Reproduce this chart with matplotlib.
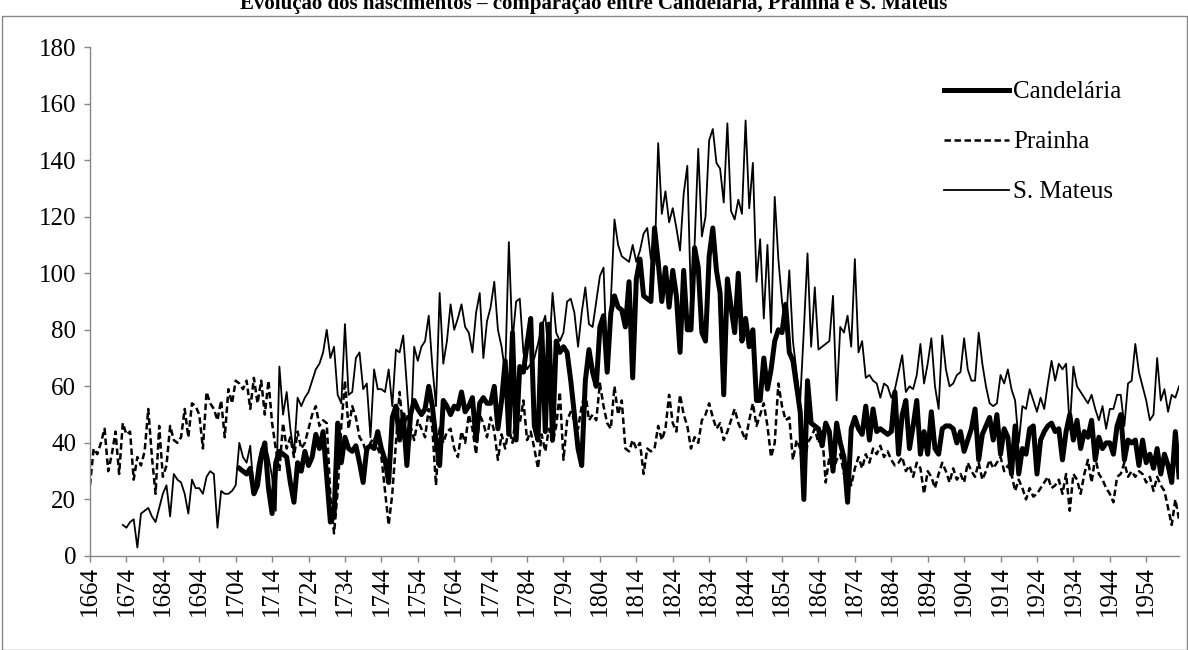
import matplotlib
matplotlib.use('Agg')
import matplotlib.pyplot as plt
from matplotlib.patches import Rectangle

plt.rcParams['font.family'] = ['Liberation Serif', 'DejaVu Serif']

# ------------------------------------------------------------------ data
title = 'Evolução dos nascimentos – comparação entre Candelária, Prainha e S. Mateus'
tick_years = list(range(1664, 1955, 10))

start_prainha = 1664
prainha = [
    25, 38, 36, 40, 45, 30, 36, 44, 29, 47,   # 1664
    43, 44, 27, 35, 32, 37, 52, 35, 22, 46,   # 1674
    28, 32, 46, 41, 40, 42, 52, 42, 54, 53,   # 1684
    50, 38, 58, 54, 52, 48, 55, 42, 59, 54,   # 1694
    62, 61, 59, 62, 52, 63, 54, 62, 50, 62,   # 1704
    47, 38, 30, 47, 38, 42, 35, 44, 38, 40,   # 1714
    45, 50, 53, 46, 48, 47, 21, 8, 23, 46,    # 1724
    62, 45, 53, 49, 42, 40, 36, 40, 42, 38,   # 1734
    35, 23, 11, 22, 40, 58, 44, 50, 46, 41,   # 1744
    48, 45, 42, 52, 45, 25, 46, 40, 44, 45,   # 1754
    38, 35, 44, 40, 50, 45, 36, 50, 47, 42,   # 1764
    49, 44, 34, 43, 38, 45, 40, 50, 47, 55,   # 1774
    41, 44, 38, 31, 43, 37, 45, 40, 46, 58,   # 1784
    34, 48, 51, 48, 45, 53, 58, 48, 50, 48,   # 1794
    61, 53, 47, 45, 60, 50, 55, 38, 37, 41,   # 1804
    38, 40, 29, 38, 37, 38, 46, 41, 45, 57,   # 1814
    47, 44, 57, 50, 46, 38, 42, 40, 48, 50,   # 1824
    54, 49, 45, 47, 41, 44, 48, 52, 47, 44,   # 1834
    41, 48, 54, 46, 50, 54, 46, 35, 40, 61,   # 1844
    53, 48, 49, 34, 41, 38, 28, 40, 42, 45,   # 1854
    40, 44, 26, 35, 30, 34, 36, 29, 33, 25,   # 1864
    31, 35, 31, 36, 33, 38, 36, 39, 35, 37,   # 1874
    34, 32, 33, 35, 30, 32, 28, 33, 31, 22,   # 1884
    30, 28, 24, 29, 33, 30, 26, 31, 27, 29,   # 1894
    26, 33, 30, 28, 33, 27, 30, 34, 31, 33,   # 1904
    35, 30, 32, 29, 23, 27, 24, 20, 24, 21,   # 1914
    22, 24, 26, 28, 24, 25, 27, 22, 29, 16,   # 1924
    29, 27, 22, 29, 34, 26, 35, 29, 27, 24,   # 1934
    22, 19, 28, 29, 33, 28, 30, 28, 30, 29,   # 1944
    26, 28, 23, 28, 25, 23, 17, 11, 20, 13,   # 1954
]

start_mateus = 1673
s_mateus = [
    11,                                       # 1673
    10, 12, 13, 3, 15, 16, 17, 14, 12, 17,    # 1674
    22, 25, 14, 29, 27, 26, 22, 15, 27, 24,   # 1684
    24, 22, 28, 30, 29, 10, 23, 22, 22, 23,   # 1694
    25, 40, 35, 33, 39, 22, 32, 38, 40, 35,   # 1704
    28, 16, 67, 50, 58, 45, 36, 56, 53, 56,   # 1714
    58, 62, 66, 68, 72, 80, 70, 74, 57, 54,   # 1724
    82, 57, 58, 70, 72, 59, 61, 42, 66, 59,   # 1734
    59, 58, 66, 53, 73, 72, 78, 60, 41, 74,   # 1744
    69, 74, 76, 85, 67, 53, 93, 68, 76, 89,   # 1754
    80, 84, 89, 81, 79, 72, 86, 93, 70, 83,   # 1764
    88, 97, 80, 74, 65, 111, 76, 90, 91, 72,  # 1774
    66, 68, 70, 75, 81, 85, 70, 93, 79, 76,   # 1784
    79, 90, 91, 86, 74, 86, 95, 82, 81, 90,   # 1794
    99, 102, 66, 90, 119, 110, 106, 105, 104, 110,   # 1804
    104, 108, 114, 116, 105, 103, 146, 121, 129, 118,  # 1814
    123, 116, 108, 128, 138, 90, 110, 144, 113, 120,   # 1824
    147, 151, 139, 137, 125, 153, 122, 119, 126, 121,  # 1834
    154, 123, 139, 97, 112, 84, 110, 79, 127, 105,     # 1844
    90, 80, 101, 76, 65, 55, 80, 107, 74, 95,  # 1854
    73, 74, 75, 76, 92, 55, 81, 79, 85, 74,   # 1864
    105, 72, 76, 63, 64, 62, 61, 56, 61, 60,  # 1874
    56, 59, 65, 71, 58, 60, 59, 64, 75, 61,   # 1884
    68, 77, 60, 52, 78, 66, 60, 61, 64, 65,   # 1894
    77, 66, 62, 62, 79, 68, 60, 54, 53, 54,   # 1904
    64, 61, 66, 59, 55, 40, 53, 52, 59, 55,   # 1914
    51, 56, 52, 61, 69, 62, 68, 66, 68, 45,   # 1924
    67, 60, 58, 56, 54, 57, 52, 48, 53, 45,   # 1934
    52, 52, 57, 57, 46, 61, 62, 75, 65, 60,   # 1944
    55, 48, 50, 70, 55, 59, 51, 57, 56, 60,   # 1954
]

start_candelaria = 1705
candelaria = [
    31, 30, 29, 31, 22, 25, 35, 40, 24,       # 1705
    15, 33, 37, 36, 35, 26, 19, 33, 30, 37,   # 1714
    32, 35, 43, 38, 44, 28, 12, 14, 47, 33,   # 1724
    42, 38, 37, 39, 33, 26, 38, 39, 38, 44,   # 1734
    38, 34, 26, 49, 53, 41, 50, 32, 50, 55,   # 1744
    52, 50, 52, 60, 53, 41, 32, 55, 53, 50,   # 1754
    53, 52, 58, 51, 53, 56, 41, 54, 56, 54,   # 1764
    54, 60, 45, 55, 69, 43, 79, 41, 67, 65,   # 1774
    75, 84, 46, 41, 82, 44, 82, 41, 76, 72,   # 1784
    74, 72, 62, 50, 38, 32, 62, 73, 65, 60,   # 1794
    81, 85, 65, 86, 92, 88, 87, 81, 97, 63,   # 1804
    98, 105, 92, 91, 90, 116, 104, 90, 102, 88,  # 1814
    101, 92, 72, 101, 80, 80, 109, 102, 79, 76,  # 1824
    106, 116, 101, 93, 57, 98, 88, 79, 100, 76,  # 1834
    84, 74, 80, 55, 55, 70, 59, 66, 76, 80,   # 1844
    79, 89, 72, 69, 60, 51, 20, 62, 47, 46,   # 1854
    45, 39, 47, 44, 30, 47, 40, 35, 19, 45,   # 1864
    49, 45, 43, 53, 41, 52, 44, 45, 44, 43,   # 1874
    44, 58, 36, 50, 55, 38, 46, 55, 36, 44,   # 1884
    36, 51, 38, 36, 45, 46, 46, 45, 40, 44,   # 1894
    37, 41, 45, 52, 34, 43, 46, 49, 41, 50,   # 1904
    36, 45, 42, 29, 46, 29, 38, 36, 45, 46,   # 1914
    29, 41, 44, 46, 47, 44, 45, 34, 44, 50,   # 1924
    41, 48, 38, 44, 42, 48, 34, 42, 38, 40,   # 1934
    40, 36, 46, 50, 34, 41, 40, 41, 32, 41,   # 1944
    33, 36, 31, 38, 29, 36, 32, 26, 44, 28,   # 1954
]

years_p = list(range(start_prainha, start_prainha + len(prainha)))
years_m = list(range(start_mateus, start_mateus + len(s_mateus)))
years_c = list(range(start_candelaria, start_candelaria + len(candelaria)))
last_year = max(years_p[-1], years_m[-1], years_c[-1])

# ------------------------------------------------------------------ plot
W, H = 1188, 650
fig = plt.figure(figsize=(W / 100, H / 100), dpi=100)
ax = fig.add_axes([90 / W, 1 - 556 / H, (1179 - 90) / W, (556 - 47) / H])

ax.plot(years_c, candelaria, color='black', lw=3.6, label='Candelária',
        solid_joinstyle='round')
ax.plot(years_p, prainha, color='black', lw=1.8, ls=(0, (2.6, 1.4)),
        label='Prainha')
ax.plot(years_m, s_mateus, color='black', lw=1.3, label='S. Mateus')

ax.set_xlim(start_prainha, last_year)
ax.set_ylim(0, 180)
ax.set_yticks(range(0, 181, 20))
ax.set_xticks(tick_years)
ax.set_xticklabels([str(y) for y in tick_years], rotation=90)

grey = '#868686'
for side in ['top', 'right']:
    ax.spines[side].set_visible(False)
for side in ['left', 'bottom']:
    ax.spines[side].set_color(grey)
    ax.spines[side].set_linewidth(1.0)
ax.tick_params(axis='both', direction='out', length=4, width=1.0,
               color=grey, labelsize=18, labelcolor='black')
ax.tick_params(axis='x', pad=3)
ax.tick_params(axis='y', pad=6)

leg = ax.legend(loc='upper left', bbox_to_anchor=(944 / W, 1 - 81 / H),
                bbox_transform=fig.transFigure, frameon=False, fontsize=18,
                handlelength=2.6, handletextpad=0.15, labelspacing=1.1,
                borderpad=0, borderaxespad=0)

fig.text(0.5, 1 - 4 / H, title, ha='center', va='center',
         fontsize=15, fontweight='bold')

fig.patches.append(Rectangle((1.5 / W, 0), 1 - 3 / W, 1 - 16 / H,
                             transform=fig.transFigure, fill=False,
                             edgecolor=grey, lw=1.0))

fig.savefig('out.png', dpi=100)
